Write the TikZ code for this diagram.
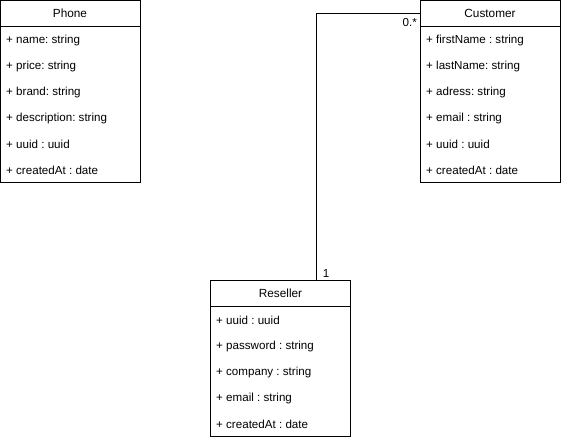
\documentclass[tikz,border=0pt]{standalone}
\usepackage{fontspec}
\setmainfont{Liberation Sans}
\frenchspacing
\begin{document}
\begin{tikzpicture}[x=1pt,y=-1pt,
  classbox/.style={draw=black,line width=0.8pt,fill=white},
  title/.style={font=\fontsize{11.8}{14}\selectfont,anchor=center,inner sep=0pt},
  attr/.style={font=\fontsize{11.6}{14}\selectfont,anchor=west,inner sep=0pt},
  mult/.style={font=\fontsize{11.6}{14}\selectfont,inner sep=0pt},
  assoc/.style={draw=black,line width=0.8pt}]
\useasboundingbox[fill=white] (0,0) rectangle (561,440);

% Phone
\draw[classbox] (0.5,0.5) rectangle (140,182);
\draw[line width=0.8pt] (0.5,26) -- (140,26);
\node[title] (phone) at (70,13.5) {Phone};
\foreach \t [count=\i] in {{+ name: string},{+ price: string},{+ brand: string},{+ description: string},{+ uuid : uuid},{+ createdAt : date}}
  \node[attr] (phone-\i) at (6,{14+26*\i}) {\t};

% Customer
\draw[classbox] (420,0.5) rectangle (560.5,182);
\draw[line width=0.8pt] (420,26) -- (560.5,26);
\node[title] (customer) at (490,13.5) {Customer};
\foreach \t [count=\i] in {{+ firstName : string},{+ lastName: string},{+ adress: string},{+ email : string},{+ uuid : uuid},{+ createdAt : date}}
  \node[attr] (customer-\i) at (426,{14+26*\i}) {\t};

% Reseller
\draw[classbox] (210.5,280.5) rectangle (350.5,436);
\draw[line width=0.8pt] (210.5,306) -- (350.5,306);
\node[title] (reseller) at (280.5,293.5) {Reseller};
\foreach \t [count=\i] in {{+ uuid : uuid},{+ password : string},{+ company : string},{+ email : string},{+ createdAt : date}}
  \node[attr] (reseller-\i) at (216,{294+26*\i}) {\t};

% Association Customer -- Reseller
\coordinate (custend) at (420,13);
\coordinate (resend) at (316,280.5);
\draw[assoc] (custend) -- (316,13) -- (resend);
\node[mult,anchor=east] (m0) at (417,22.5) {0.*};
\node[mult] (m1) at (326,273.5) {1};
\end{tikzpicture}
\end{document}
